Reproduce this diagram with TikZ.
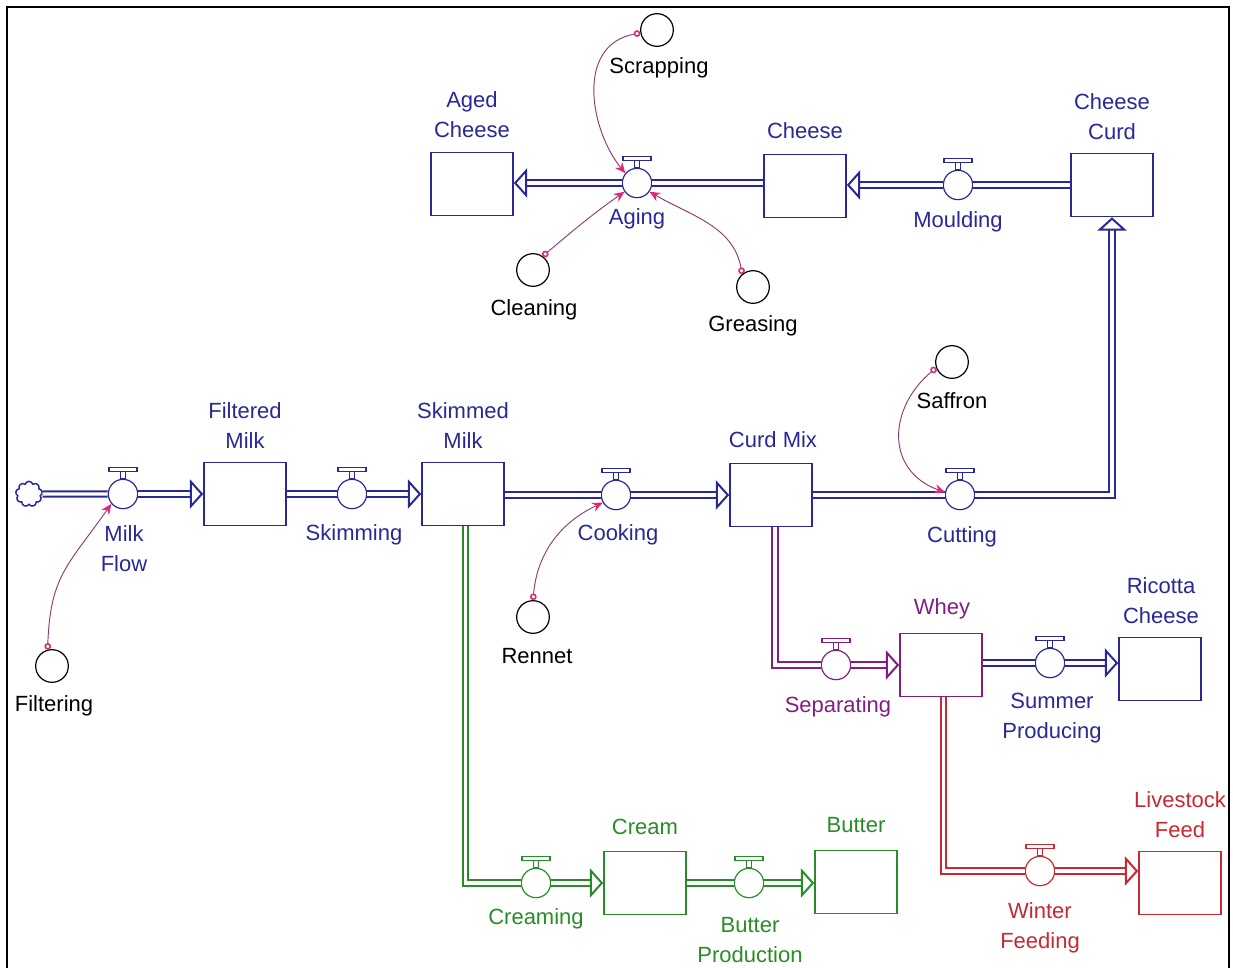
\documentclass[tikz,border=0pt]{standalone}
\usepackage{fontspec}
\setmainfont{Liberation Sans}
\usetikzlibrary{positioning,arrows.meta,shapes.symbols}

\definecolor{navy}{RGB}{40,40,150}
\definecolor{grn}{RGB}{40,140,40}
\definecolor{purp}{RGB}{130,30,130}
\definecolor{redc}{RGB}{200,40,50}
\definecolor{lnk}{RGB}{140,60,110}
\definecolor{tipc}{RGB}{225,40,120}

\begin{document}
\begin{tikzpicture}[
    x=0.75pt, y=0.75pt,
    font=\fontsize{16.5}{22.5}\selectfont,
    stock/.style={draw=#1, line width=1.2pt, fill=white,
                  minimum width=61.5pt, minimum height=47.25pt, inner sep=0pt},
    valve/.style={draw=#1, circle, line width=0.9pt, fill=white,
                  minimum size=22pt, inner sep=0pt},
    aux/.style={draw=black, circle, line width=0.9pt, minimum size=24.5pt, inner sep=0pt},
    lbl/.style={text=#1, align=center, inner sep=0pt},
    pipe/.style={draw=#1, line width=1.5pt, double=white, double distance=2.4pt},
    inflow/.style={pipe=#1, -{Triangle[open, length=10pt, width=22pt]}},
    link/.style={draw=lnk, line width=0.7pt,
                 {Circle[open, length=5pt, color=tipc, line width=1.2pt]}-{Stealth[length=8pt, width=7pt, color=tipc]}},
  ]
  \useasboundingbox (0,0) rectangle (1233,-968);

  % ---------- frame ----------
  \draw[line width=2pt] (7,-970) -- (7,-7) -- (1229,-7) -- (1229,-970);

  % ---------- stocks ----------
  \node[stock=navy] (aged)    at (472,-184)  {};
  \node[stock=navy] (cheese)  at (805,-186)  {};
  \node[stock=navy] (ccurd)   at (1112,-185) {};
  \node[stock=navy] (fmilk)   at (245,-494)  {};
  \node[stock=navy] (smilk)   at (463,-494)  {};
  \node[stock=navy] (curd)    at (771,-495)  {};
  \node[stock=purp] (whey)    at (941,-665)  {};
  \node[stock=navy] (ricotta) at (1160,-669) {};
  \node[stock=grn]  (cream)   at (645,-883)  {};
  \node[stock=grn]  (butter)  at (856,-882)  {};
  \node[stock=redc] (lfeed)   at (1180,-883) {};

  \node[lbl=navy] (agedl)    at (472,-115)  {Aged\\Cheese};
  \node[lbl=navy] (cheesel)  at (805,-131)  {Cheese};
  \node[lbl=navy] (ccurdl)   at (1112,-117) {Cheese\\Curd};
  \node[lbl=navy] (fmilkl)   at (245,-426)  {Filtered\\Milk};
  \node[lbl=navy] (smilkl)   at (463,-426)  {Skimmed\\Milk};
  \node[lbl=navy] (curdl)    at (773,-440)  {Curd Mix};
  \node[lbl=purp] (wheyl)    at (942,-609)  {Whey};
  \node[lbl=navy] (ricottal) at (1161,-601) {Ricotta\\Cheese};
  \node[lbl=grn]  (creaml)   at (645,-827)  {Cream};
  \node[lbl=grn]  (butterl)  at (856,-825)  {Butter};
  \node[lbl=redc] (lfeedl)   at (1180,-815) {Livestock\\Feed};

  % ---------- source ----------
  \node[cloud, cloud puffs=9, draw=navy, line width=1.1pt, minimum width=20pt,
        minimum height=19pt, inner sep=0pt] (src) at (29,-494) {};

  % ---------- valves ----------
  \node[valve=navy] (mf)    at (123,-494)  {};
  \node[valve=navy] (skim)  at (352,-494)  {};
  \node[valve=navy] (cook)  at (616,-495)  {};
  \node[valve=navy] (cut)   at (960,-495)  {};
  \node[valve=navy] (mould) at (958,-185)  {};
  \node[valve=navy] (aging) at (637,-183)  {};
  \node[valve=purp] (sep)   at (836,-665)  {};
  \node[valve=navy] (sprod) at (1050,-663) {};
  \node[valve=grn]  (crm)   at (536,-883)  {};
  \node[valve=grn]  (bprod) at (749,-883)  {};
  \node[valve=redc] (wfeed) at (1040,-871) {};

  \foreach \v/\c in {mf/navy, skim/navy, cook/navy, cut/navy, mould/navy, aging/navy,
                     sep/purp, sprod/navy, crm/grn, bprod/grn, wfeed/redc} {
    \draw[\c, line width=0.8pt, fill=white] (\v.north) ++(-2.5,0) rectangle ++(5,7)
      ++(-16.5,0) rectangle ++(28,4);
  }

  \node[lbl=navy] (mfl)    at (124,-549)  {Milk\\Flow};
  \node[lbl=navy] (skiml)  at (354,-535)  {Skimming};
  \node[lbl=navy] (cookl)  at (618,-535)  {Cooking};
  \node[lbl=navy] (cutl)   at (962,-537)  {Cutting};
  \node[lbl=navy] (mouldl) at (958,-222)  {Moulding};
  \node[lbl=navy] (agingl) at (637,-219)  {Aging};
  \node[lbl=purp] (sepl)   at (838,-707)  {Separating};
  \node[lbl=navy] (sprodl) at (1052,-718) {Summer\\Producing};
  \node[lbl=grn]  (crml)   at (536,-919)  {Creaming};
  \node[lbl=grn]  (bprodl) at (750,-940)  {Butter\\Production};
  \node[lbl=redc] (wfeedl) at (1040,-928) {Winter\\Feeding};

  % ---------- auxiliaries ----------
  \node[aux] (scr)   at (657,-30)  {};
  \node[aux] (clean) at (533,-270) {};
  \node[aux] (greas) at (753,-287) {};
  \node[aux] (saff)  at (952,-362) {};
  \node[aux] (filt)  at (52,-666)  {};
  \node[aux] (ren)   at (533,-617) {};

  \node[lbl=black] (scrl)   at (659,-68)  {Scrapping};
  \node[lbl=black] (cleanl) at (534,-310) {Cleaning};
  \node[lbl=black] (greasl) at (753,-326) {Greasing};
  \node[lbl=black] (saffl)  at (952,-401) {Saffron};
  \node[lbl=black] (filtl)  at (54,-706)  {Filtering};
  \node[lbl=black] (renl)   at (537,-656) {Rennet};

  % ---------- flows ----------
  \draw[pipe=navy] (src.east) -- (mf.west);
  \draw[inflow=navy] (mf.east) -- (fmilk.west);
  \draw[pipe=navy] (fmilk.east) -- (skim.west);
  \draw[inflow=navy] (skim.east) -- (smilk.west);
  \draw[pipe=navy] (smilk.east |- cook) -- (cook.west);
  \draw[inflow=navy] (cook.east) -- (curd.west);
  \draw[pipe=navy] (curd.east) -- (cut.west);
  \draw[inflow=navy] (cut.east) -| (ccurd.south);
  \draw[pipe=navy] (ccurd.west |- mould) -- (mould.east);
  \draw[inflow=navy] (mould.west) -- (mould.west -| cheese.east);
  \draw[pipe=navy] (cheese.west |- aging) -- (aging.east);
  \draw[inflow=navy] (aging.west) -- (aging.west -| aged.east);

  \draw[pipe=grn] ([xshift=2pt]smilk.south) |- (crm.west);
  \draw[inflow=grn] (crm.east) -- (cream.west);
  \draw[pipe=grn] (cream.east) -- (bprod.west);
  \draw[inflow=grn] (bprod.east) -- (bprod.east -| butter.west);

  \draw[pipe=purp] ([xshift=3pt]curd.south) |- (sep.west);
  \draw[inflow=purp] (sep.east) -- (whey.west);
  \draw[pipe=navy] (whey.east |- sprod) -- (sprod.west);
  \draw[inflow=navy] (sprod.east) -- (sprod.east -| ricotta.west);

  \draw[pipe=redc] ([xshift=2pt]whey.south) |- (wfeed.west);
  \draw[inflow=redc] (wfeed.east) -- (wfeed.east -| lfeed.west);

  % ---------- information links ----------
  \draw[link] (filt.105) to[out=88, in=235, looseness=1.2] (mf.220);
  \draw[link] (ren.90) to[out=85, in=205] (cook.210);
  \draw[link] (saff.200) to[out=220, in=160, looseness=1.3] (cut.170);
  \draw[link] (scr.190) .. controls (575,-45) and (590,-130) .. (aging.140);
  \draw[link] (clean.55) to[out=40, in=215] (aging.215);
  \draw[link] (greas.130) to[out=100, in=-30] (aging.325);

\end{tikzpicture}
\end{document}
